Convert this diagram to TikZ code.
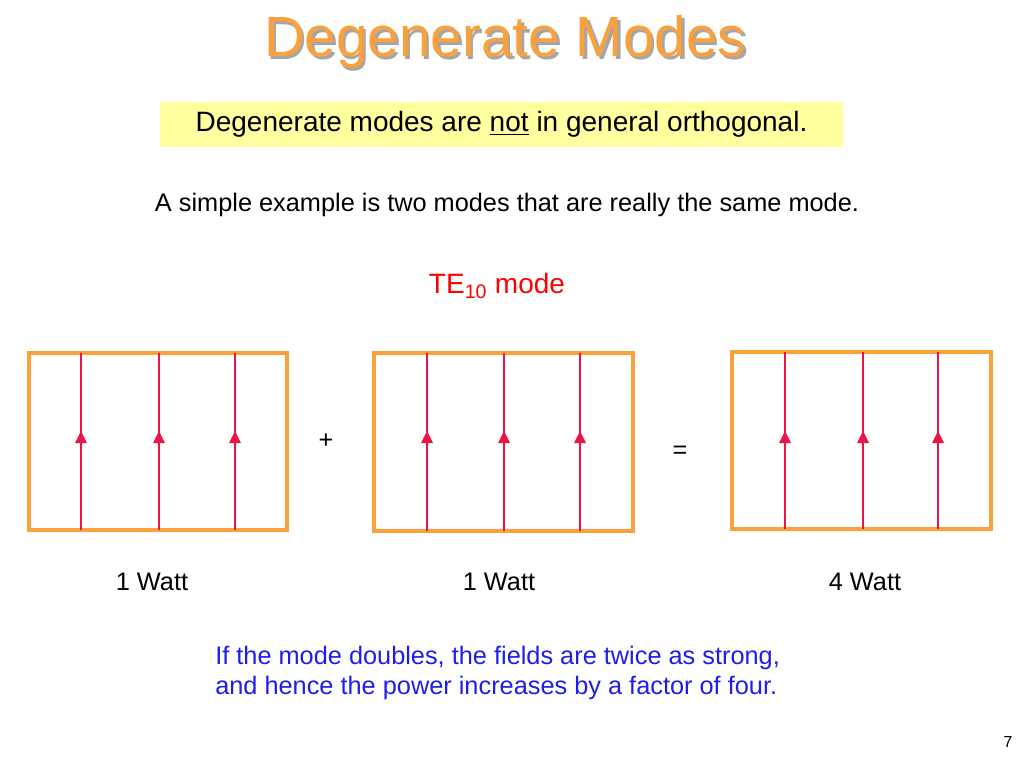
\documentclass[tikz,border=0pt]{standalone}
\usepackage{fontspec}
\setmainfont{Liberation Sans}
\usetikzlibrary{arrows.meta}
\definecolor{org}{RGB}{250,160,60}
\definecolor{fld}{RGB}{235,20,70}
\definecolor{ylw}{RGB}{255,255,160}
\definecolor{blu}{RGB}{30,30,230}
\tikzset{guide/.style={draw=org,line width=3pt},
fline/.style={draw=fld,line width=1.6pt},
ahead/.style={fill=fld},
txt/.style={font=\fontsize{19}{22}\selectfont,inner sep=0pt}}
\begin{document}
\begin{tikzpicture}[x=0.75pt,y=-0.75pt]
\useasboundingbox (0,0) rectangle (1024,768);
\node[font=\fontsize{42.5}{46}\selectfont,text=gray!70,inner sep=0pt] (tsh) at (507.5,44.5) {Degenerate Modes};
\node[font=\fontsize{42.5}{46}\selectfont,text=org,inner sep=0pt] (title) at (505,42) {Degenerate Modes};
\node[fill=ylw,minimum width=512.25pt,minimum height=33.75pt,inner sep=0pt] (box) at (501.5,124.5) {};
\node[txt,font=\fontsize{21}{24}\selectfont] (t1) at (box) {Degenerate modes are \underline{not} in general orthogonal.};
\node[txt] (t2) at (507,205) {A simple example is two modes that are really the same mode.};
\node[txt,text=red,font=\fontsize{21}{24}\selectfont] (te) at (497,286) {TE\textsubscript{10} mode};
\foreach \n/\a/\b/\c/\d/\la/\lb/\lc in {1/29/287/353/530/81/159/235, 2/374/633/353/531/427/504/580, 3/732/991/352/529/785/863/938}{
  \draw[guide] (\a,\c) rectangle (\b,\d);
  \foreach \x in {\la,\lb,\lc}{
    \draw[fline] (\x,\c) -- (\x,\d);
    \fill[ahead] (\x,431) -- (\x+6,443) -- (\x-6,443) -- cycle;
  }
}
\node[txt] (p) at (326,441) {+};
\node[txt] (eq) at (680,452) {=};
\node[txt] (w1) at (152,582) {1 Watt};
\node[txt] (w2) at (499,582) {1 Watt};
\node[txt] (w3) at (865,582) {4 Watt};
\node[txt,text=blu,align=left,anchor=north west,font=\fontsize{19}{22.5}\selectfont] (b) at (215,646) {If the mode doubles, the fields are twice as strong,\\and hence the power increases by a factor of four.};
\node[txt,font=\fontsize{12}{14}\selectfont] (pg) at (1008,742) {7};
\end{tikzpicture}
\end{document}
